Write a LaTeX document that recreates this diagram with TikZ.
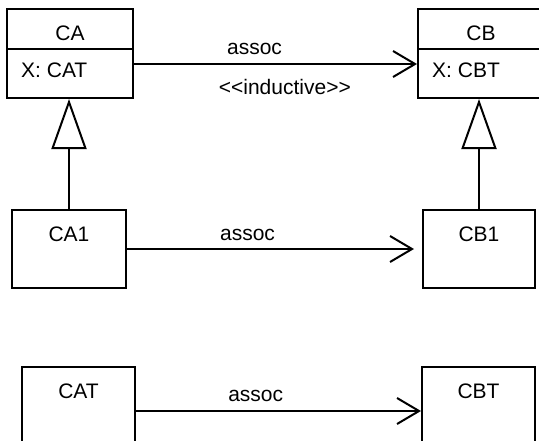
\documentclass[tikz,border=0pt]{standalone}
\usepackage{fontspec}
\setmainfont{Liberation Sans}
\usetikzlibrary{arrows.meta,positioning}
\tikzset{
  clsbox/.style={draw, line width=2pt, fill=white, inner sep=0pt},
  clsname/.style={anchor=base, inner sep=0pt},
  attrname/.style={anchor=base west, inner sep=0pt},
  assocarrow/.style={line width=2pt, -{Straight Barb[length=22pt,width=26pt]}},
  genarrow/.style={line width=2pt, -{Triangle[open,length=50pt,width=35pt,fill=white]}},
  assoclabel/.style={inner sep=0pt},
}
\newcommand{\umlclass}[5]{% \umlclass{name}{centre}{width}{height}{label}
  \node[clsbox, minimum width=#3, minimum height=#4] (#1) at (#2) {};
  \node[clsname] (#1-label) at ([yshift=-32pt]#1.north) {#5};
}
\begin{document}
\begin{tikzpicture}[x=1pt,y=-1pt,font=\fontsize{21}{25}\selectfont]
  \clip (0,0) rectangle (539,440);
  % classes with an attribute
  \umlclass{CA}{70,53.5}{126pt}{89pt}{CA}
  \umlclass{CB}{481,53.5}{126pt}{89pt}{CB}
  \draw[line width=2pt] ([yshift=-41pt]CA.north west) -- ([yshift=-41pt]CA.north east);
  \draw[line width=2pt] ([yshift=-41pt]CB.north west) -- ([yshift=-41pt]CB.north east);
  \node[attrname] (CA-attr) at ([xshift=15pt,yshift=-69pt]CA.north west) {X: CAT};
  \node[attrname] (CB-attr) at ([xshift=15pt,yshift=-69pt]CB.north west) {X: CBT};
  % subclasses
  \umlclass{CA1}{69,249}{114pt}{78pt}{CA1}
  \umlclass{CB1}{479,249}{112pt}{78pt}{CB1}
  % attribute types
  \umlclass{CAT}{78.5,411}{113pt}{88pt}{CAT}
  \umlclass{CBT}{478.5,411}{113pt}{88pt}{CBT}

  \draw[genarrow] (CA1.north) -- (CA1.north |- CA.south);
  \draw[genarrow] (CB1.north) -- (CB1.north |- CB.south);

  \draw[assocarrow] ([yshift=-10.5pt]CA.east) -- ([yshift=-10.5pt]CB.west)
    node[assoclabel, pos=.426, above=8pt] (assoc-top) {assoc}
    node[assoclabel, pos=.533, below=14pt] (stereo-top) {<{}<inductive>{}>};
  \draw[assocarrow] (CA1.east) -- ([xshift=-8pt]CB1.west)
    node[assoclabel, pos=.42, above=7pt] (assoc-mid) {assoc};
  \draw[assocarrow] (CAT.east) -- (CBT.west)
    node[assoclabel, pos=.42, above=8pt] (assoc-bot) {assoc};
\end{tikzpicture}
\end{document}
